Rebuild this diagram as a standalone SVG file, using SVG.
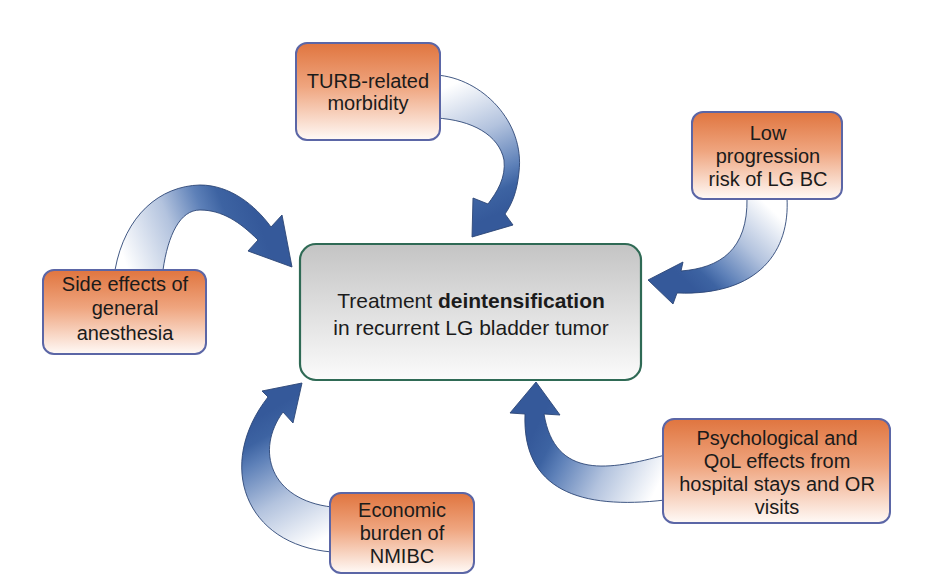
<svg xmlns="http://www.w3.org/2000/svg" width="940" height="588" viewBox="0 0 940 588">
<style>
.box{stroke:#5b66a6;stroke-width:2;fill:url(#og)}
.center{stroke:#2f6a55;stroke-width:2.2;fill:url(#gg)}
.t{font-family:"Liberation Sans",Arial,sans-serif;font-size:20px;fill:#1b1b1b;text-anchor:middle}
.tc{font-family:"Liberation Sans",Arial,sans-serif;font-size:21px;fill:#1b1b1b;text-anchor:middle}
.arr{stroke:#2d4676;stroke-width:0.9;stroke-linejoin:round}
</style>
<defs>
<linearGradient id="og" x1="0" y1="0" x2="0" y2="1">
<stop offset="0" stop-color="#e0753f"/>
<stop offset="0.45" stop-color="#efa57f"/>
<stop offset="1" stop-color="#fffaf7"/>
</linearGradient>
<linearGradient id="gg" x1="0" y1="0" x2="0" y2="1">
<stop offset="0" stop-color="#c4c4c4"/>
<stop offset="1" stop-color="#fbfbfb"/>
</linearGradient>
<linearGradient id="a1" gradientUnits="userSpaceOnUse" x1="440" y1="90" x2="495" y2="215">
<stop offset="0" stop-color="#ffffff"/><stop offset="0.4" stop-color="#b3c3de"/><stop offset="0.72" stop-color="#5d80b8"/><stop offset="0.85" stop-color="#3d63a2"/><stop offset="1" stop-color="#35599a"/>
</linearGradient>
<linearGradient id="a2" gradientUnits="userSpaceOnUse" x1="767" y1="205" x2="690" y2="285">
<stop offset="0" stop-color="#ffffff"/><stop offset="0.4" stop-color="#b3c3de"/><stop offset="0.72" stop-color="#5d80b8"/><stop offset="0.85" stop-color="#3d63a2"/><stop offset="1" stop-color="#35599a"/>
</linearGradient>
<linearGradient id="a3" gradientUnits="userSpaceOnUse" x1="125" y1="262" x2="255" y2="212">
<stop offset="0" stop-color="#ffffff"/><stop offset="0.4" stop-color="#b3c3de"/><stop offset="0.65" stop-color="#5d80b8"/><stop offset="0.8" stop-color="#3d63a2"/><stop offset="1" stop-color="#35599a"/>
</linearGradient>
<linearGradient id="a4" gradientUnits="userSpaceOnUse" x1="330" y1="535" x2="262" y2="415">
<stop offset="0" stop-color="#ffffff"/><stop offset="0.4" stop-color="#b3c3de"/><stop offset="0.72" stop-color="#5d80b8"/><stop offset="0.85" stop-color="#3d63a2"/><stop offset="1" stop-color="#35599a"/>
</linearGradient>
<linearGradient id="a5" gradientUnits="userSpaceOnUse" x1="660" y1="482" x2="540" y2="420">
<stop offset="0" stop-color="#ffffff"/><stop offset="0.4" stop-color="#b3c3de"/><stop offset="0.72" stop-color="#5d80b8"/><stop offset="0.85" stop-color="#3d63a2"/><stop offset="1" stop-color="#35599a"/>
</linearGradient>
</defs>
<rect width="940" height="588" fill="#ffffff"/>
<g id="connectors">
<path class="arr" fill="url(#a1)" d="M 436,75 C 482,78 525,122 519,172 C 517,192 512,204 505,214 L 513,225 L 472,237 L 473,198 L 488,204 C 497,192 506,178 504,160 C 499,135 472,120 436,118 Z"/>
<path class="arr" fill="url(#a2)" d="M 747,198 L 787,198 C 790,250 760,296 677,293 L 673,304 L 648,280 L 683,262 L 681,271 C 720,268 748,250 747,198 Z"/>
<path class="arr" fill="url(#a3)" d="M 115,270 C 125,215 160,186 200,185 C 230,185 255,205 271,227 L 282,215 L 292,267 L 248,251 L 258,240 C 240,222 222,210 200,210 C 180,210 168,235 163,270 Z"/>
<path class="arr" fill="url(#a4)" d="M 332,507 C 270,500 255,450 283,412 L 293,423 L 302,383 L 262,391 L 268,397 C 215,465 245,545 332,552 Z"/>
<path class="arr" fill="url(#a5)" d="M 665,455 C 610,470 555,480 544,414 L 560,415 L 536,382 L 510,413 L 525,414 C 522,490 580,510 665,500 Z"/>
</g>
<g id="center">
<rect class="center" x="300" y="244" width="341" height="136" rx="16"/>
<text class="tc" x="471" y="308">Treatment <tspan font-weight="bold">deintensification</tspan></text>
<text class="tc" x="471" y="335">in recurrent LG bladder tumor</text>
</g>
<g id="turb">
<rect class="box" x="296" y="43" width="144" height="97" rx="11"/>
<text class="t" x="368" y="88">TURB-related</text>
<text class="t" x="368" y="110">morbidity</text>
</g>
<g id="low">
<rect class="box" x="692" y="112" width="150" height="87" rx="11"/>
<text class="t" x="768" y="140">Low</text>
<text class="t" x="768" y="163">progression</text>
<text class="t" x="768" y="186">risk of LG BC</text>
</g>
<g id="side">
<rect class="box" x="43" y="270" width="163" height="84" rx="11"/>
<text class="t" x="125" y="291">Side effects of</text>
<text class="t" x="125" y="315">general</text>
<text class="t" x="125" y="340">anesthesia</text>
</g>
<g id="economic">
<rect class="box" x="330" y="493" width="144" height="80" rx="11"/>
<text class="t" x="402" y="517">Economic</text>
<text class="t" x="402" y="540">burden of</text>
<text class="t" x="402" y="563">NMIBC</text>
</g>
<g id="psych">
<rect class="box" x="663" y="419" width="227" height="104" rx="11"/>
<text class="t" x="777" y="445">Psychological and</text>
<text class="t" x="777" y="468">QoL effects from</text>
<text class="t" x="777" y="491">hospital stays and OR</text>
<text class="t" x="777" y="514">visits</text>
</g>
</svg>
